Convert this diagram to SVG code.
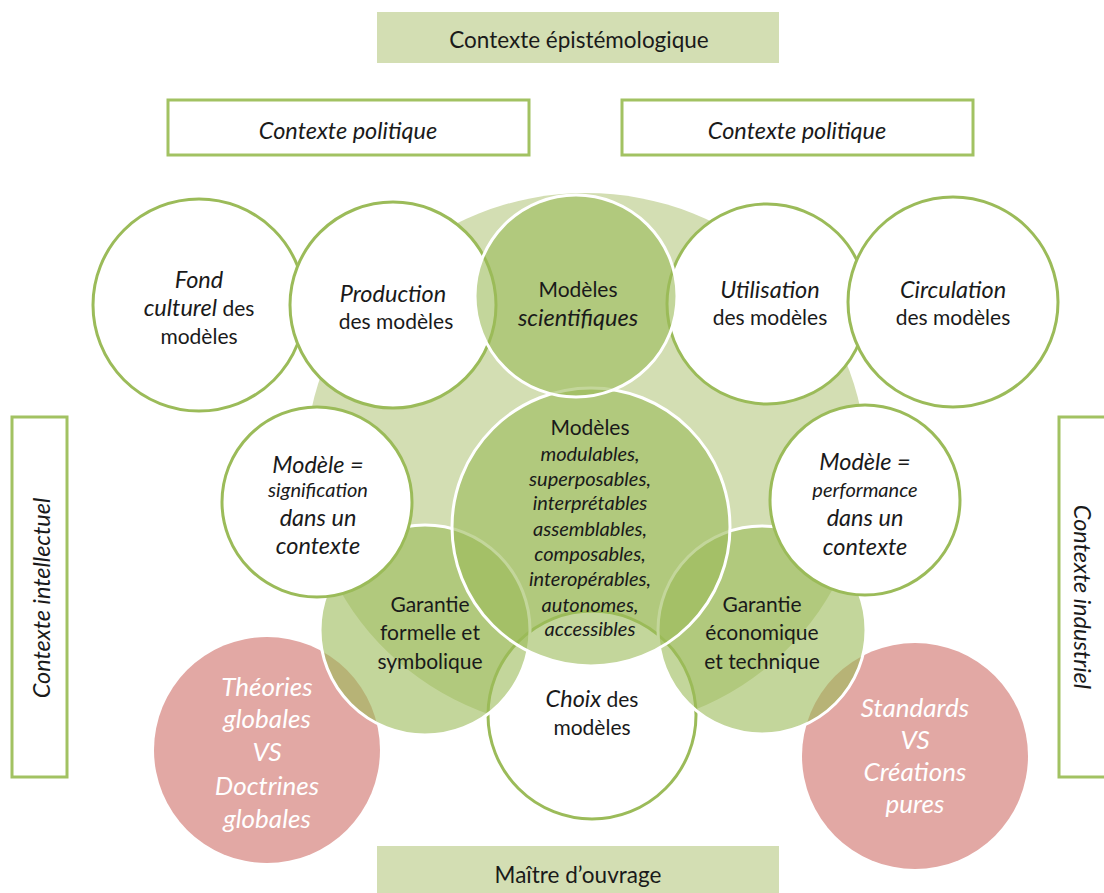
<svg xmlns="http://www.w3.org/2000/svg" width="1104" height="893" viewBox="0 0 1104 893">
<style>
text{font-family:Lato,"Open Sans","Liberation Sans",sans-serif;fill:#1a1a1a;text-anchor:middle}
.t{font-size:21px}
.bx{font-size:22.5px}
.i{font-style:italic;font-size:23.5px}
.s{font-size:20px;font-style:italic}
.w{fill:#ffffff;font-style:italic;font-size:26px}
.box{fill:#ffffff;stroke:#a2c262;stroke-width:3}
.fill{fill:#d3deb3}
.wc{fill:#ffffff;stroke:#9bbb59;stroke-width:3}
.gc{fill:#9bbb59;fill-opacity:0.6;stroke:#ffffff;stroke-width:3}
.pc{fill:#e2a8a4}
</style>
<rect width="1104" height="893" fill="#ffffff"/>
<g id="ctx-epistemo"><rect class="fill" x="377" y="12" width="402" height="51"/><text class="bx" x="579" y="48">Contexte épistémologique</text></g>
<g id="ctx-politique-1"><rect class="box" x="168" y="100" width="361" height="55"/><text class="i" x="348" y="139">Contexte politique</text></g>
<g id="ctx-politique-2"><rect class="box" x="622" y="100" width="351" height="55"/><text class="i" x="797" y="139">Contexte politique</text></g>
<g id="ctx-intellectuel"><rect class="box" x="12" y="417" width="55" height="360"/><text class="i" transform="translate(50,598) rotate(-90)">Contexte intellectuel</text></g>
<g id="ctx-industriel"><rect class="box" x="1059" y="417" width="55" height="360"/><text class="i" transform="translate(1074,597) rotate(90)">Contexte industriel</text></g>
<g id="maitre"><rect class="fill" x="377" y="846" width="402" height="60"/><text class="bx" x="578" y="883">Maître d’ouvrage</text></g>

<g id="bg"><ellipse cx="586" cy="462" rx="280" ry="269" fill="#d3deb3"/></g>
<g id="fond"><circle class="wc" cx="199" cy="305" r="106"/>
<text class="t" x="199" y="288"><tspan class="i">Fond</tspan></text>
<text class="t" x="199" y="316"><tspan class="i">culturel</tspan> des</text>
<text class="t" x="199" y="344">modèles</text></g>
<g id="production"><circle class="wc" cx="393" cy="305" r="103"/>
<text class="i" x="393" y="302">Production</text>
<text class="t" x="396" y="329">des modèles</text></g>
<g id="utilisation"><circle class="wc" cx="767" cy="304" r="100"/>
<text class="i" x="770" y="298">Utilisation</text>
<text class="t" x="770" y="325">des modèles</text></g>
<g id="circulation"><circle class="wc" cx="953" cy="302" r="105"/>
<text class="i" x="953" y="298">Circulation</text>
<text class="t" x="953" y="325">des modèles</text></g>
<g id="choix"><circle class="wc" cx="592" cy="715" r="104"/></g>
<g id="theories"><circle class="pc" cx="267" cy="750" r="113"/></g>
<g id="standards"><circle class="pc" cx="915" cy="756" r="113"/></g>
<g id="garantie-formelle"><circle class="gc" cx="425" cy="630" r="105"/></g>
<g id="garantie-eco"><circle class="gc" cx="762" cy="630" r="104"/></g>
<g id="central"><circle class="gc" cx="591" cy="527" r="139"/></g>
<g id="modeles-sci"><circle class="gc" cx="576" cy="296" r="101"/>
<text class="t" x="578" y="297">Modèles</text>
<text class="i" x="578" y="326">scientifiques</text></g>
<g id="signification"><circle class="wc" cx="317" cy="502" r="95"/>
<text class="i" x="318" y="473">Modèle =</text>
<text class="s" x="318" y="497">signification</text>
<text class="i" x="318" y="526">dans un</text>
<text class="i" x="318" y="554">contexte</text></g>
<g id="performance"><circle class="wc" cx="865" cy="500" r="95"/>
<text class="i" x="865" y="470">Modèle =</text>
<text class="s" x="865" y="497">performance</text>
<text class="i" x="865" y="526">dans un</text>
<text class="i" x="865" y="555">contexte</text></g>

<g id="central-text">
<text class="t" x="590" y="435">Modèles</text>
<text class="s" x="590" y="461">modulables,</text>
<text class="s" x="590" y="486">superposables,</text>
<text class="s" x="590" y="510">interprétables</text>
<text class="s" x="590" y="536">assemblables,</text>
<text class="s" x="590" y="561">composables,</text>
<text class="s" x="590" y="586">interopérables,</text>
<text class="s" x="590" y="612">autonomes,</text>
<text class="s" x="590" y="636">accessibles</text>
</g>
<g id="garantie-formelle-text">
<text class="t" x="430" y="612">Garantie</text>
<text class="t" x="430" y="640">formelle et</text>
<text class="t" x="430" y="669">symbolique</text></g>
<g id="garantie-eco-text">
<text class="t" x="762" y="612">Garantie</text>
<text class="t" x="762" y="640">économique</text>
<text class="t" x="762" y="669">et technique</text></g>
<g id="choix-text">
<text class="t" x="592" y="707"><tspan class="i" font-size="21">Choix</tspan> des</text>
<text class="t" x="592" y="735">modèles</text></g>
<g id="theories-text">
<text class="w" x="267" y="696">Théories</text>
<text class="w" x="267" y="728">globales</text>
<text class="w" x="267" y="761">VS</text>
<text class="w" x="267" y="795">Doctrines</text>
<text class="w" x="267" y="828">globales</text></g>
<g id="standards-text">
<text class="w" x="915" y="717">Standards</text>
<text class="w" x="915" y="749">VS</text>
<text class="w" x="915" y="781">Créations</text>
<text class="w" x="915" y="813">pures</text></g>
<g id="connectors"></g>
</svg>
